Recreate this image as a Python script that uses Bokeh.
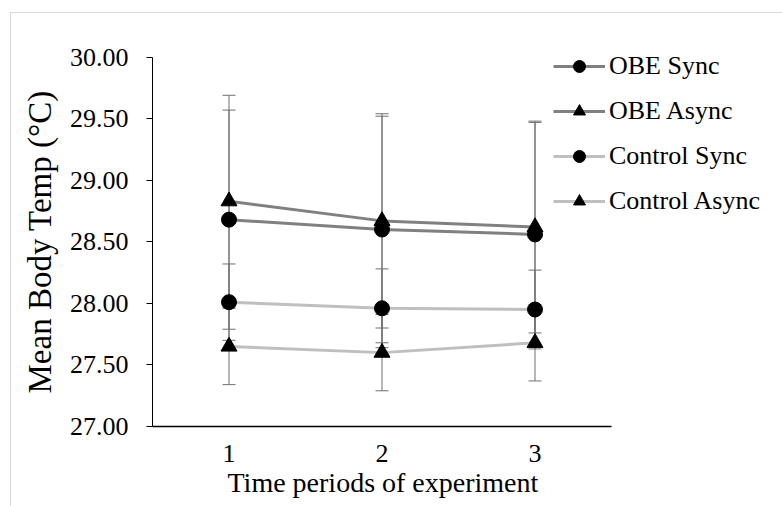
from bokeh.plotting import figure
from bokeh.models import (ColumnDataSource, Whisker, TeeHead, FixedTicker,
                          NumeralTickFormatter, Legend, LegendItem, Range1d, Title)
from bokeh.embed import file_html
from bokeh.resources import INLINE

# ---- data ----
periods = [1, 2, 3]
period_labels = ["1", "2", "3"]
series_names = ["OBE Sync", "OBE Async", "Control Sync", "Control Async"]
obe_sync = [28.68, 28.60, 28.56]
obe_async = [28.83, 28.67, 28.62]
control_sync = [28.01, 27.96, 27.95]
control_async = [27.65, 27.60, 27.68]
obe_sync_err = [0.89, 0.92, 0.91]
obe_async_err = [0.86, 0.87, 0.86]
control_sync_err = [0.31, 0.32, 0.32]
control_async_err = [0.31, 0.31, 0.31]
y_ticks = [27.0, 27.5, 28.0, 28.5, 29.0, 29.5, 30.0]
x_title = "Time periods of experiment"
y_title = "Mean Body Temp (°C)"

FONT = "Liberation Serif"
OBE_COLOR = "#808080"
CTRL_COLOR = "#bfbfbf"
ERR_COLOR = "#6f6f6f"

p = figure(width=782, height=506, output_backend="svg", toolbar_location=None,
           x_range=Range1d(0.5, 0.5 + 620 / 153.0), y_range=Range1d(27.0, 30.2),
           min_border_left=152, min_border_right=10, min_border_top=32,
           min_border_bottom=80)
p.outline_line_color = None
p.background_fill_color = None
p.border_fill_color = None
p.xgrid.visible = False
p.ygrid.visible = False
p.styles = {
    "background-color": "white",
    "background-image": "linear-gradient(#d9d9d9,#d9d9d9), linear-gradient(#d9d9d9,#d9d9d9)",
    "background-size": "1px 100%, 100% 1px",
    "background-position": "10px 12px, 10px 12px",
    "background-repeat": "no-repeat",
}

series = [
    (series_names[0], obe_sync, obe_sync_err, OBE_COLOR, "circle"),
    (series_names[1], obe_async, obe_async_err, OBE_COLOR, "triangle"),
    (series_names[2], control_sync, control_sync_err, CTRL_COLOR, "circle"),
    (series_names[3], control_async, control_async_err, CTRL_COLOR, "triangle"),
]

items = []
for name, vals, errs, color, marker in series:
    src = ColumnDataSource(dict(
        x=periods, y=vals,
        upper=[v + e for v, e in zip(vals, errs)],
        lower=[v - e for v, e in zip(vals, errs)],
    ))
    w = Whisker(source=src, base="x", upper="upper", lower="lower",
                line_color=ERR_COLOR, line_width=1, level="underlay",
                upper_head=TeeHead(size=13, line_color=ERR_COLOR, line_width=1),
                lower_head=TeeHead(size=13, line_color=ERR_COLOR, line_width=1))
    p.add_layout(w)
    items.append((name, src, color, marker))

renderers = {}
for name, src, color, marker in items:
    lr = p.line("x", "y", source=src, line_color=color, line_width=3)
    renderers[name] = [lr]
for name, src, color, marker in items:
    size = 15 if marker == "circle" else 16
    sr = p.scatter("x", "y", source=src, marker=marker, size=size,
                   fill_color="black", line_color="black")
    renderers[name].append(sr)

legend = Legend(items=[LegendItem(label=n, renderers=renderers[n]) for n in series_names],
                location=(401, 210), orientation="vertical",
                glyph_width=52, glyph_height=30, label_height=30,
                label_standoff=4, spacing=15, padding=0, margin=0,
                border_line_color=None, background_fill_alpha=0,
                label_text_font=FONT, label_text_font_size="26px",
                label_text_font_style="normal",
                label_text_color="black")
p.add_layout(legend, "center")

# x axis
xa = p.xaxis[0]
xa.ticker = FixedTicker(ticks=periods)
xa.major_label_overrides = {t: l for t, l in zip(periods, period_labels)}
xa.bounds = (0.5, 3.5)
xa.axis_line_color = "black"
xa.axis_line_width = 1.5
xa.major_tick_out = 0
xa.major_tick_in = 0
xa.minor_tick_out = 0
xa.minor_tick_in = 0
xa.major_label_standoff = 18
xa.major_label_text_font = FONT
xa.major_label_text_font_size = "26px"
xa.major_label_text_font_style = "normal"
xa.major_label_text_color = "black"

# y axis
ya = p.yaxis[0]
ya.ticker = FixedTicker(ticks=y_ticks)
ya.formatter = NumeralTickFormatter(format="0.00")
ya.bounds = (27.0, 30.0)
ya.axis_line_color = "black"
ya.axis_line_width = 1
ya.major_tick_out = 6
ya.major_tick_in = 0
ya.major_tick_line_color = "black"
ya.minor_tick_out = 0
ya.minor_tick_in = 0
ya.major_label_standoff = 18
ya.major_label_text_font = FONT
ya.major_label_text_font_size = "26px"
ya.major_label_text_font_style = "normal"
ya.major_label_text_color = "black"

# axis titles (placed as titles so they centre on the axis extent, not the frame)
xt = Title(text=x_title, align="left", offset=75, vertical_align="bottom",
           standoff=0, text_font=FONT, text_font_size="28px",
           text_font_style="normal", text_color="black")
p.add_layout(xt, "below")
yt = Title(text=y_title, align="left", offset=33, vertical_align="middle",
           standoff=16, text_font=FONT, text_font_size="33px",
           text_font_style="normal", text_color="black")
p.add_layout(yt, "left")

open("out.html", "w").write(file_html(p, INLINE))
